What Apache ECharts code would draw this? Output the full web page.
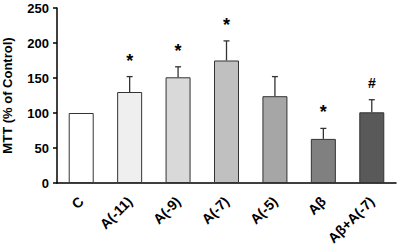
<!DOCTYPE html>
<html>
<head>
<meta charset="utf-8">
<script src="https://cdn.jsdelivr.net/npm/echarts@6/dist/echarts.min.js"></script>
<style>
  html, body { margin: 0; padding: 0; background: #fff; }
  #chart { width: 398px; height: 249px; }
</style>
</head>
<body>
<div id="chart"></div>
<script>
// data
const categories = ['C', 'A(-11)', 'A(-9)', 'A(-7)', 'A(-5)', 'Aβ', 'Aβ+A(-7)'];
const means = [100, 130, 151, 175, 124, 63, 101];
const errTops = [100, 152, 166, 203, 152, 78, 119];
const marks = ['', '*', '*', '*', '', '*', '#'];
const barColors = ['#ffffff', '#efefef', '#d9d9d9', '#c0c0c0', '#a6a6a6', '#808080', '#595959'];
const yTicks = [0, 50, 100, 150, 200, 250];

const font = 'Liberation Sans, Arial, sans-serif';

let myChart = echarts.init(document.getElementById('chart'), null, { renderer: 'svg' });
let option = {
    animation: false,
    grid: { left: 57, right: 2, top: 8, bottom: 66, outerBoundsMode: 'none' },
    xAxis: {
        type: 'category',
        data: categories,
        axisLine: { lineStyle: { color: '#000', width: 1.5 } },
        axisTick: { show: false },
        axisLabel: {
            rotate: 45,
            interval: 0,
            color: '#000',
            fontFamily: font,
            fontWeight: 'bold',
            fontSize: 14,
            margin: 16
        }
    },
    yAxis: {
        type: 'value',
        min: yTicks[0],
        max: yTicks[yTicks.length - 1],
        interval: 50,
        name: 'MTT (% of Control)',
        nameLocation: 'middle',
        nameGap: 43,
        nameTextStyle: { color: '#000', fontFamily: font, fontWeight: 'bold', fontSize: 13 },
        axisLine: { show: true, lineStyle: { color: '#000', width: 1.5 } },
        axisTick: { show: true, length: 4, lineStyle: { color: '#000', width: 1.5 } },
        axisLabel: { color: '#000', fontFamily: font, fontWeight: 'bold', fontSize: 13, margin: 8 },
        splitLine: { show: false }
    },
    series: [
        {
            type: 'bar',
            barWidth: 25,
            data: means.map((v, i) => ({
                value: v,
                itemStyle: { color: barColors[i], borderColor: '#333', borderWidth: 1 }
            })),
            z: 2
        },
        {
            type: 'custom',
            z: 3,
            data: categories.map((c, i) => [i, means[i], errTops[i]]),
            renderItem: function (params, api) {
                let i = api.value(0);
                let base = api.coord([i, api.value(1)]);
                let top = api.coord([i, api.value(2)]);
                let children = [];
                if (api.value(2) > api.value(1)) {
                    children.push({
                        type: 'line',
                        shape: { x1: base[0], y1: base[1], x2: top[0], y2: top[1] },
                        style: { stroke: '#333', lineWidth: 1.3 }
                    });
                    children.push({
                        type: 'line',
                        shape: { x1: top[0] - 3, y1: top[1], x2: top[0] + 3, y2: top[1] },
                        style: { stroke: '#333', lineWidth: 1.3 }
                    });
                }
                let m = marks[i];
                if (m) {
                    children.push({
                        type: 'text',
                        x: top[0],
                        y: top[1] - (m === '*' ? 7 : 10),
                        style: {
                            text: m,
                            fill: '#000',
                            font: 'bold ' + (m === '*' ? 18 : 14) + 'px ' + font,
                            align: 'center',
                            verticalAlign: 'bottom'
                        }
                    });
                }
                return { type: 'group', children: children };
            }
        }
    ]
};
myChart.setOption(option);
</script>
</body>
</html>
